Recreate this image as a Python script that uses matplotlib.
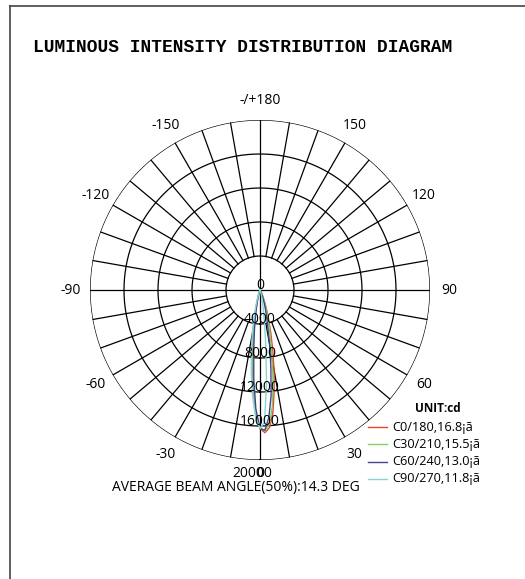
import numpy as np
import matplotlib.pyplot as plt
from matplotlib.lines import Line2D

W, H = 525, 579

# gamma angles (deg, 0 = straight down) and intensities (cd) per C-plane
gamma = [-90, -30, -25, -20, -15, -12, -10, -8, -6, -4, -2, 0, 2, 4, 6, 8, 10, 12, 14, 16, 18, 20, 25, 30, 90]
c0 = [0, 50, 120, 300, 1200, 2600, 4000, 6000, 8500, 11500, 14500, 16300, 16800, 16200, 14500, 12000, 9500, 7200, 5300, 3800, 2700, 1900, 700, 200, 0]
c30 = [0, 40, 100, 300, 1100, 2500, 3800, 5700, 8200, 11300, 14400, 16200, 16600, 15800, 13800, 11000, 8200, 6000, 4500, 3300, 2300, 1600, 500, 120, 0]
c60 = [0, 30, 80, 200, 800, 1800, 3000, 4700, 7000, 10500, 14000, 16300, 16500, 15000, 12500, 9200, 6500, 4400, 3200, 2300, 1600, 1000, 300, 80, 0]
c90 = [0, 60, 200, 500, 1800, 3500, 5200, 7300, 9800, 12500, 15000, 16300, 15500, 11000, 6500, 3800, 2200, 1300, 800, 500, 300, 200, 80, 30, 0]

series = [c0, c30, c60, c90]
labels = ["C0/180,16.8¡ã", "C30/210,15.5¡ã", "C60/240,13.0¡ã", "C90/270,11.8¡ã"]
colors = ["#e8452a", "#7fcf6b", "#45458f", "#86d6d6"]

rings = [4000, 8000, 12000, 16000, 20000]
ring_labels = ["0", "4000", "8000", "12000", "16000"]
angle_labels = {180: "-/+180", 150: "150", -150: "-150", 120: "120", -120: "-120",
                90: "90", -90: "-90", 60: "60", -60: "-60", 30: "30", -30: "-30"}

FONT = "Open Sans"
fs = 10


def px(x, y):
    return x / W, 1 - y / H


fig = plt.figure(figsize=(W / 100, H / 100), dpi=100)

# frame lines (top and left)
fig.add_artist(Line2D([10 / W, 1], [1 - 6 / H] * 2, color="#444444", lw=1.2))
fig.add_artist(Line2D([10 / W] * 2, [1 - 6 / H, 0], color="#444444", lw=1.2))

fig.text(*px(33, 47), "LUMINOUS INTENSITY DISTRIBUTION DIAGRAM", family="Liberation Mono",
         weight="bold", fontsize=12.9, ha="left", va="center")

cx, cy, R = 260, 290, 170
ax = fig.add_axes([(cx - R) / W, (H - cy - R) / H, 2 * R / W, 2 * R / H], projection="polar")
ax.set_theta_zero_location("S")
ax.set_theta_direction(1)
ax.set_ylim(0, 20000)
ax.grid(False)
ax.set_xticks([])
ax.set_yticks([])
ax.spines["polar"].set_visible(False)

# grid
th = np.linspace(0, 2 * np.pi, 721)
for r in rings:
    ax.plot(th, np.full_like(th, r), color="black", lw=0.9, zorder=1)
for a in range(0, 360, 10):
    r0 = 0 if a % 90 == 0 else rings[0]
    ax.plot([np.radians(a)] * 2, [r0, 20000], color="black", lw=0.9, zorder=1)

# curves
g = np.radians(gamma)
for vals, c in zip(series, colors):
    ax.plot(g, vals, color=c, lw=1.0, zorder=3)

# intensity labels
for r, t in zip([0] + rings[:-1], ring_labels):
    ax.annotate(t, xy=(0, r), xytext=(0, 1), textcoords="offset pixels", ha="center",
                va="baseline", family=FONT, fontsize=fs, zorder=4)
ax.annotate("20000", xy=(0, 20000), xytext=(-8, -14), textcoords="offset pixels", ha="center",
            va="center", family=FONT, fontsize=fs, zorder=4)
ax.annotate("0", xy=(0, 20000), xytext=(0, -14), textcoords="offset pixels", ha="center",
            va="center", family=FONT, fontsize=fs, zorder=4)

# angle labels
for a, t in angle_labels.items():
    ax.text(np.radians(a), 22300, t, ha="center", va="center", family=FONT, fontsize=fs,
            clip_on=False)

fig.text(*px(236, 487), "AVERAGE BEAM ANGLE(50%):14.3 DEG", ha="center", va="center",
         family=FONT, fontsize=fs)

# legend
fig.text(*px(438, 408), "UNIT:cd", ha="center", va="center", family=FONT, fontsize=8.5,
         weight="bold")
for i, (t, c) in enumerate(zip(labels, colors)):
    y = 427 + 17.3 * i
    fig.add_artist(Line2D([368 / W, 387 / W], [1 - y / H] * 2, color=c, lw=1.0))
    fig.text(*px(392, y), t, ha="left", va="center", family=FONT, fontsize=9.2)

fig.savefig("out.png", dpi=100)
